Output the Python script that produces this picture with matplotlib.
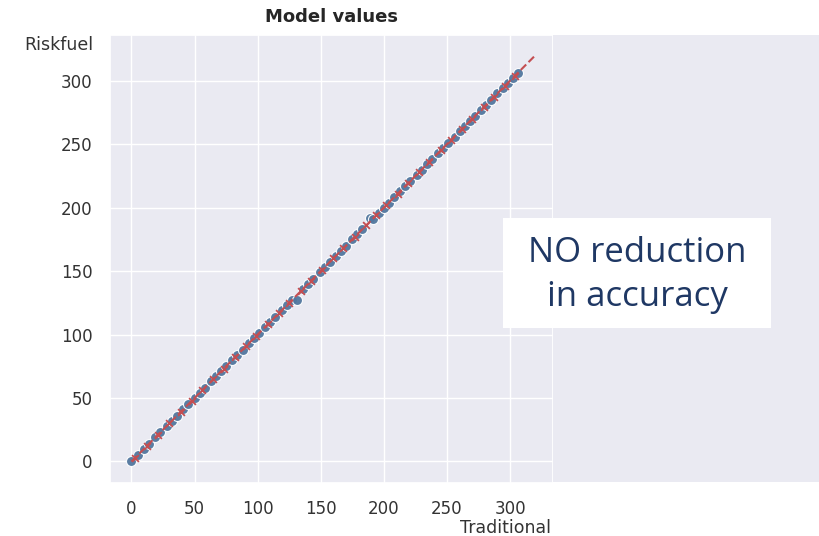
import matplotlib.pyplot as plt
import seaborn as sns
from matplotlib.patches import Rectangle

sns.set_theme(style="darkgrid")

# model values: traditional pricer vs riskfuel net
traditional = [0, 5, 10, 14, 19, 23, 28, 32, 36, 41, 45, 50, 54, 58, 63, 67, 71, 75,
               80, 84, 88, 93, 97, 101, 106, 110, 114, 119, 123, 127, 131, 136, 140,
               144, 149, 153, 157, 162, 166, 170, 175, 179, 183, 189, 191, 196, 200,
               204, 208, 213, 217, 221, 226, 230, 234, 238, 243, 247, 251, 256, 260,
               264, 268, 272, 277, 281, 285, 290, 294, 298, 302, 306]
riskfuel = [0, 5, 10, 14, 19, 23, 28, 32, 36, 41, 45, 50, 54, 58, 63, 67, 71, 75,
            80, 84, 88, 93, 97, 101, 106, 110, 114, 119, 123, 127, 127, 136, 140,
            144, 149, 153, 157, 162, 166, 170, 175, 179, 183, 192, 191, 196, 200,
            204, 208, 213, 217, 221, 226, 230, 234, 238, 243, 247, 251, 256, 260,
            264, 268, 272, 277, 281, 285, 290, 294, 298, 302, 306]

# second batch drawn with crosses
trad_x = [3, 12, 21, 30, 39, 48, 56, 65, 73, 82, 91, 99, 108, 117, 125, 134, 142,
          151, 160, 168, 177, 186, 194, 202, 211, 219, 228, 236, 245, 253, 262,
          270, 279, 287, 296, 304]
risk_x = [3, 12, 21, 30, 39, 48, 56, 65, 73, 82, 91, 99, 108, 117, 125, 134, 142,
          151, 160, 168, 177, 186, 194, 202, 211, 219, 228, 236, 245, 253, 262,
          270, 279, 287, 296, 304]

ref_line = [0, 320]

fig = plt.figure(figsize=(8.2, 5.36), dpi=100)
ax = fig.add_axes([110/820, 53/536, 443/820, 448/536])

ax.scatter(traditional, riskfuel, s=52, color="#52779f", edgecolor="white",
           linewidth=0.8, alpha=0.95, zorder=3)
ax.scatter(trad_x, risk_x, s=24, marker="x", color="#c44e52", linewidth=1.3, zorder=4)
ax.plot(ref_line, ref_line, "--", color="#c44e52", lw=1.5, zorder=5)

ax.set_xlim(-17, 334)
ax.set_ylim(-17, 336)
ax.set_xticks([0, 50, 100, 150, 200, 250, 300])
ax.set_yticks([0, 50, 100, 150, 200, 250, 300])
ax.tick_params(labelsize=12, pad=6.5, colors="#333333")

ax.set_title("Model values", fontsize=13, fontweight="bold", color="#262626", pad=9)
ax.set_ylabel("Riskfuel", rotation=0, ha="right", va="center", fontsize=12.5, color="#333333")
ax.yaxis.set_label_coords(-0.038, 0.978)
ax.set_xlabel("Traditional", ha="right", va="center", fontsize=12.5, color="#333333")
ax.xaxis.set_label_coords(0.995, -0.10)

# plain panel to the right of the plot
fig.patches.append(Rectangle((553/820, 54/536), 267/820, 447/536,
                             transform=fig.transFigure, facecolor="#eaeaf2",
                             edgecolor="none", zorder=0))
fig.patches.append(Rectangle((503/820, 208/536), 268/820, 110/536,
                             transform=fig.transFigure, facecolor="white",
                             edgecolor="none", zorder=6))
fig.text(637/820, 261/536, "NO reduction\nin accuracy", ha="center", va="center",
         fontsize=25, color="#1f3864", family="Open Sans", linespacing=1.4, zorder=7)

fig.savefig("out.png", dpi=100)
